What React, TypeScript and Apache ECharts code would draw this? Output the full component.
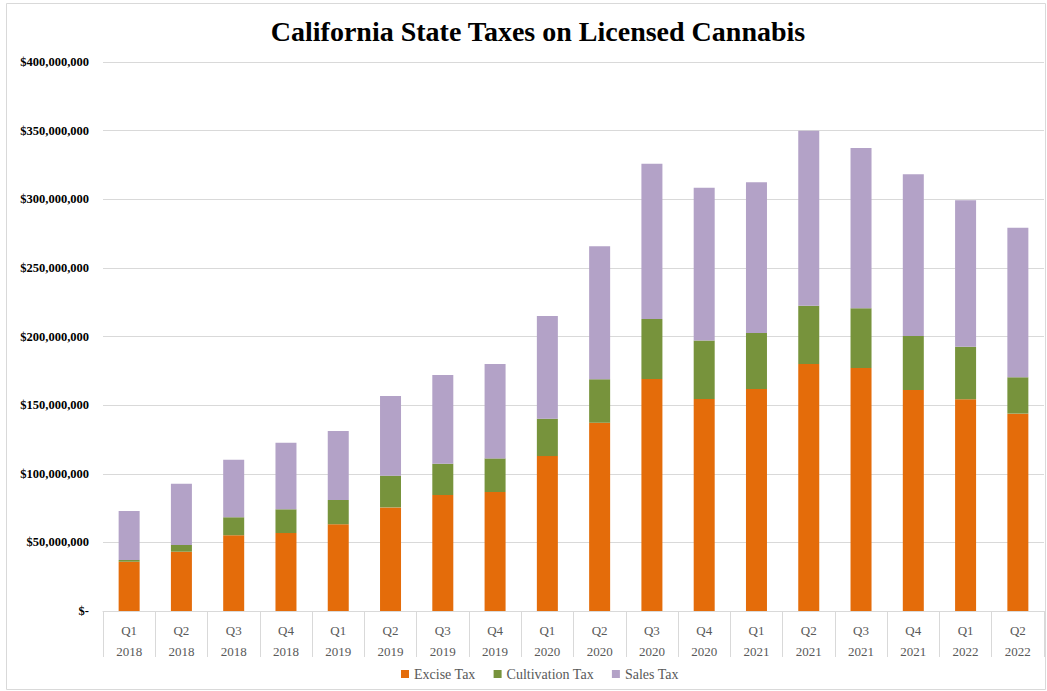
import React, { useEffect, useRef } from "react";
import * as echarts from "echarts";

const quarters = ["Q1", "Q2", "Q3", "Q4", "Q1", "Q2", "Q3", "Q4", "Q1", "Q2", "Q3", "Q4", "Q1", "Q2", "Q3", "Q4", "Q1", "Q2"];
const years = ["2018", "2018", "2018", "2018", "2019", "2019", "2019", "2019", "2020", "2020", "2020", "2020", "2021", "2021", "2021", "2021", "2022", "2022"];

const exciseTax = [35900000, 43200000, 55200000, 56800000, 63200000, 75500000, 84500000, 86700000, 112900000, 137200000, 169000000, 154500000, 161700000, 180000000, 177000000, 161000000, 154200000, 143800000];
const cultivationTax = [1300000, 4900000, 13100000, 17300000, 17700000, 23100000, 22800000, 24500000, 27200000, 31600000, 43800000, 42500000, 40900000, 42400000, 43500000, 39400000, 38400000, 26500000];
const salesTax = [35700000, 44700000, 41900000, 48500000, 50200000, 58000000, 64600000, 68800000, 74900000, 96900000, 113100000, 111400000, 109700000, 127600000, 116800000, 117800000, 106600000, 109000000];

const seriesNames = ["Excise Tax", "Cultivation Tax", "Sales Tax"];
const seriesColors = ["#E46C0A", "#77933C", "#B3A2C7"];

const SERIF = "'Liberation Serif', 'DejaVu Serif', serif";

export default function App() {
  const ref = useRef<HTMLDivElement>(null);
  useEffect(() => {
    if (!ref.current) return;
    const chart = echarts.init(ref.current, null, { renderer: "svg" });
    const categories = quarters.map((q, i) => q + "\n" + years[i]);
    const values = [exciseTax, cultivationTax, salesTax];
    chart.setOption({
      animation: false,
      backgroundColor: "#ffffff",
      title: {
        text: "California State Taxes on Licensed Cannabis",
        left: 533,
        textAlign: "center",
        top: 12,
        textStyle: { fontFamily: SERIF, fontWeight: "bold", fontSize: 28, color: "#000000" },
      },
      graphic: [
        {
          type: "rect",
          shape: { x: 6.5, y: 3.5, width: 1039, height: 686 },
          style: { fill: "none", stroke: "#d9d9d9", lineWidth: 1 },
          silent: true,
          z: -1,
        },
      ],
      legend: {
        data: seriesNames,
        bottom: 5,
        left: 396,
        itemWidth: 8,
        itemHeight: 8,
        itemGap: 18,
        icon: "rect",
        textStyle: { fontFamily: SERIF, fontSize: 14, color: "#595959" },
      },
      grid: { left: 103, right: 3, top: 62, bottom: 80, containLabel: false },
      xAxis: {
        type: "category",
        data: categories,
        boundaryGap: true,
        axisLine: { lineStyle: { color: "#d9d9d9", width: 1 } },
        axisTick: { show: true, length: 46, interval: 0, lineStyle: { color: "#d9d9d9" } },
        axisLabel: {
          interval: 0,
          margin: 9,
          lineHeight: 21,
          fontFamily: SERIF,
          fontSize: 13,
          color: "#595959",
        },
      },
      yAxis: {
        type: "value",
        min: 0,
        max: 400000000,
        interval: 50000000,
        axisLine: { show: false },
        axisTick: { show: false },
        splitLine: { lineStyle: { color: "#d9d9d9", width: 1 } },
        axisLabel: {
          margin: 14,
          fontFamily: SERIF,
          fontWeight: "bold",
          fontSize: 12.5,
          color: "#000000",
          formatter: (v: number) => (v === 0 ? "$-" : "$" + v.toLocaleString("en-US")),
        },
      },
      series: seriesNames.map((name, i) => ({
        name,
        type: "bar",
        stack: "total",
        barWidth: 21,
        data: values[i],
        itemStyle: { color: seriesColors[i] },
      })),
    });
    return () => chart.dispose();
  }, []);
  return (
    <div
      ref={ref}
      style={{ position: "fixed", left: 0, top: 0, width: 1047, height: 691 }}
    />
  );
}
